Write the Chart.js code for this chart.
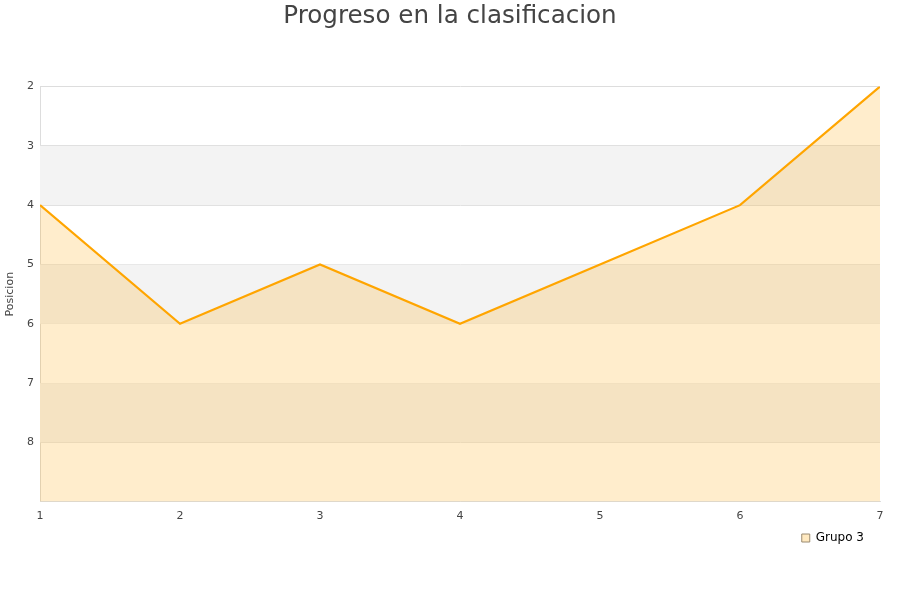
<!DOCTYPE html>
<html>
<head>
<meta charset="utf-8">
<script src="https://cdn.jsdelivr.net/npm/chart.js@4/dist/chart.umd.min.js"></script>
<style>
  body { margin: 0; background: #fff; }
  #wrap { width: 900px; height: 600px; }
</style>
</head>
<body>
<div id="wrap"><canvas id="chart" width="900" height="600"></canvas></div>
<script>
const jornadas = [1, 2, 3, 4, 5, 6, 7];
const posiciones = [4, 6, 5, 6, 5, 4, 2];
const serieNombre = "Grupo 3";

// bandas grises alternas detras de la serie
const bandas = {
  id: "bandas",
  beforeDatasetsDraw(chart) {
    const { ctx, chartArea, scales } = chart;
    const y = scales.y;
    ctx.save();
    ctx.fillStyle = "#f3f3f3";
    for (let v = 3; v < 9; v += 2) {
      const a = y.getPixelForValue(v), b = y.getPixelForValue(v + 1);
      ctx.fillRect(chartArea.left, a, chartArea.right - chartArea.left, b - a);
    }
    ctx.restore();
  }
};

// la leyenda queda un poco separada del borde derecho
const leyendaMargen = {
  id: "leyendaMargen",
  afterLayout(chart) {
    if (chart.legend) chart.legend.right -= 27;
  }
};

new Chart(document.getElementById("chart"), {
  type: "line",
  data: {
    datasets: [{
      label: serieNombre,
      data: jornadas.map((j, i) => ({ x: j, y: posiciones[i] })),
      borderColor: "#ffa500",
      backgroundColor: "rgba(255,165,0,0.2)",
      borderWidth: 2.2,
      pointRadius: 0,
      tension: 0,
      fill: { value: 9 }
    }]
  },
  options: {
    responsive: false,
    animation: false,
    layout: { padding: { left: 0, right: 0, top: 0, bottom: 46 } },
    plugins: {
      title: {
        display: true,
        text: "Progreso en la clasificacion",
        color: "#444",
        font: { family: "DejaVu Sans", size: 24.6, weight: "normal" },
        padding: { top: 2, bottom: 55 }
      },
      legend: {
        position: "bottom",
        align: "end",
        labels: {
          boxWidth: 8,
          boxHeight: 8,
          padding: 9,
          color: "#000",
          font: { family: "DejaVu Sans", size: 12 },
          generateLabels: () => [{
            text: serieNombre,
            fillStyle: "#ffe9c0",
            strokeStyle: "#9a8a70",
            lineWidth: 1,
            datasetIndex: 0
          }]
        }
      },
      tooltip: { enabled: false }
    },
    scales: {
      x: {
        type: "linear",
        min: 1, max: 7,
        ticks: { stepSize: 1, padding: 0, color: "#444", font: { family: "DejaVu Sans", size: 11 } },
        grid: { display: false },
        border: { color: "#ddd" },
        afterFit: s => { s.paddingRight = 20; }
      },
      y: {
        type: "linear",
        reverse: true,
        min: 2, max: 9,
        ticks: {
          stepSize: 1,
          padding: 6,
          color: "#444",
          font: { family: "DejaVu Sans", size: 11 },
          callback: v => (v === 9 ? "" : v)
        },
        grid: { color: "#ddd", drawTicks: false },
        border: { color: "#ddd" },
        title: { display: true, text: "Posicion", color: "#444", font: { family: "DejaVu Sans", size: 11 } },
        afterFit: s => { s.width = 40; }
      }
    }
  },
  plugins: [bandas, leyendaMargen]
});
</script>
</body>
</html>
